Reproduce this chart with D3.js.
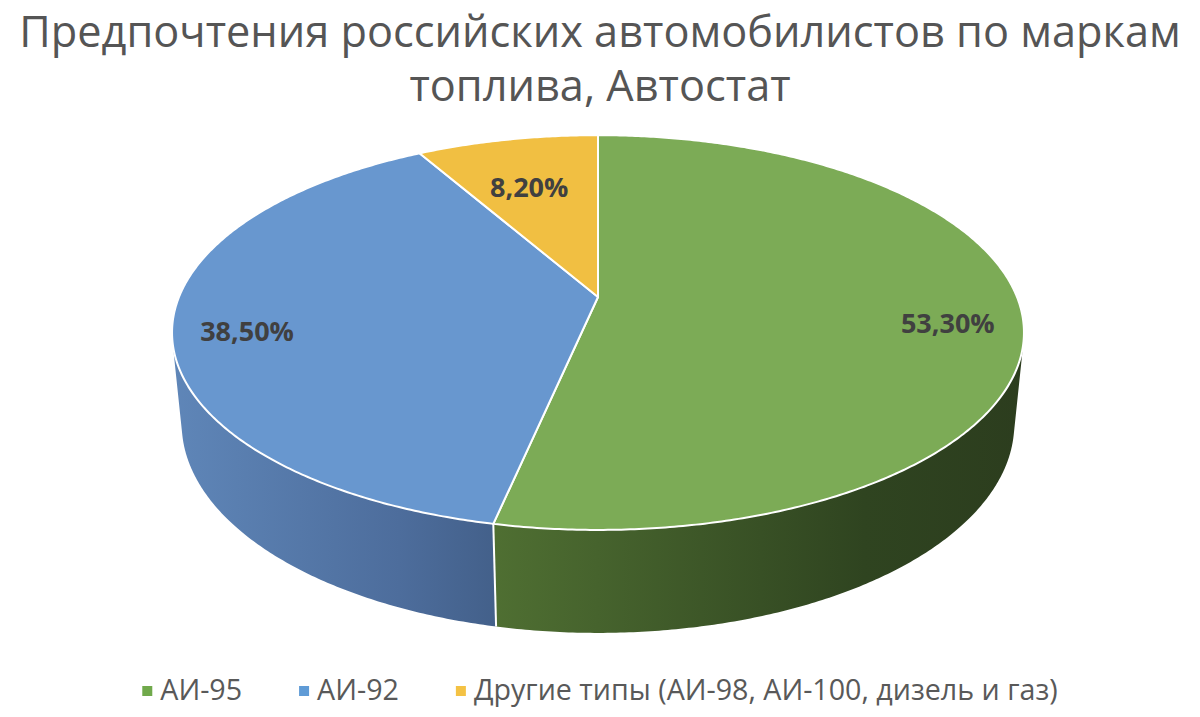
<!DOCTYPE html>
<html>
<head>
<meta charset="utf-8">
<script src="https://cdn.jsdelivr.net/npm/d3@7"></script>
<style>
  body { margin: 0; background: #fff; }
  text { font-family: "Open Sans", "Noto Sans", sans-serif; }
</style>
</head>
<body>
<div id="chart"></div>
<script>
// data
var titleLines = ["Предпочтения российских автомобилистов по маркам", "топлива, Автостат"];
var categories = ["АИ-95", "АИ-92", "Другие типы (АИ-98, АИ-100, дизель и газ)"];
var shares = [53.3, 38.5, 8.2];

var topColors = ["#7cab56", "#6897cf", "#f1bf42"];
var sideColors = [["#4f6f32", "#2f4420", "#2c3d1e"], ["#5f86b8", "#4d6d9c", "#43608a"], ["#b8912e", "#9a7824", "#8a6a1f"]];
var legendColors = ["#70a94b", "#5f9bd6", "#f4c244"];

var width = 1200, height = 717;

var svg = d3.select("#chart").append("svg")
  .attr("width", width)
  .attr("height", height);

var defs = svg.append("defs");

// simple perspective projection of the pie disc
var cx = 598, cy = 297, rx = 419, ry = 191;
var persp = 0.18, depth = 92, depthPersp = 0.0225;

function proj(a, r, z) {
  var u = r * Math.sin(a), v = -r * Math.cos(a);
  var w = 1 - persp * v + depthPersp * z;
  return [cx + rx * u / w, cy + (ry * v + depth * z) / w];
}

// where the side wall silhouette sits
var vS = persp / (1 - (ry / rx) * (ry / rx));
var aR = Math.acos(-vS), aL = 2 * Math.PI - aR;

function arcPoints(a0, a1, z) {
  var n = Math.max(2, Math.ceil(Math.abs(a1 - a0) / (Math.PI / 360)));
  var pts = [];
  for (var i = 0; i <= n; i++) {
    pts.push(proj(a0 + (a1 - a0) * i / n, 1, z));
  }
  return pts;
}

var pie = d3.pie().sort(null).value(function(d) { return d; });
var arcs = pie(shares);

var line = d3.line();

// side walls
arcs.forEach(function(d, i) {
  var s0 = Math.max(d.startAngle, aR), s1 = Math.min(d.endAngle, aL);
  if (s1 <= s0) return;
  var topPts = arcPoints(s0, s1, 0);
  var botPts = arcPoints(s1, s0, 1);
  var all = topPts.concat(botPts);
  var xs = d3.extent(all, function(p) { return p[0]; });

  var g = defs.append("linearGradient")
    .attr("id", "side" + i)
    .attr("gradientUnits", "userSpaceOnUse")
    .attr("x1", xs[0]).attr("x2", xs[1])
    .attr("y1", 0).attr("y2", 0);
  g.append("stop").attr("offset", "0%").attr("stop-color", sideColors[i][0]);
  g.append("stop").attr("offset", "70%").attr("stop-color", sideColors[i][1]);
  g.append("stop").attr("offset", "100%").attr("stop-color", sideColors[i][2]);

  svg.append("path")
    .attr("d", line(all) + "Z")
    .attr("fill", "url(#side" + i + ")");
});

// white edges between side walls
arcs.forEach(function(d) {
  var a = d.startAngle;
  if (a > aR && a < aL) {
    var p0 = proj(a, 1, 0), p1 = proj(a, 1, 1);
    svg.append("line")
      .attr("x1", p0[0]).attr("y1", p0[1])
      .attr("x2", p1[0]).attr("y2", p1[1])
      .attr("stroke", "#fff")
      .attr("stroke-width", 2);
  }
});

// top faces
arcs.forEach(function(d, i) {
  var pts = [proj(0, 0, 0)].concat(arcPoints(d.startAngle, d.endAngle, 0));
  svg.append("path")
    .attr("d", line(pts) + "Z")
    .attr("fill", topColors[i])
    .attr("stroke", "#fff")
    .attr("stroke-width", 2)
    .attr("stroke-linejoin", "round");
});

// data labels, placed inside the outer edge of each slice
var fmt = d3.format(".2f");
var c0 = proj(0, 0, 0);
arcs.forEach(function(d) {
  var mid = (d.startAngle + d.endAngle) / 2;
  var t = svg.append("text")
    .attr("text-anchor", "middle")
    .attr("dy", "0.35em")
    .attr("font-size", 27)
    .attr("font-weight", "bold")
    .attr("fill", "#404040")
    .text(fmt(d.data).replace(".", ",") + "%");
  var hw = t.node().getComputedTextLength() / 2, hh = 14;
  var e = proj(mid, 1, 0);
  var dx = c0[0] - e[0], dy = c0[1] - e[1], len = Math.sqrt(dx * dx + dy * dy);
  dx /= len; dy /= len;
  var s = Math.min(Math.abs(dx) > 1e-6 ? hw / Math.abs(dx) : 1e9, Math.abs(dy) > 1e-6 ? hh / Math.abs(dy) : 1e9) + 28;
  t.attr("x", e[0] + dx * s).attr("y", e[1] + dy * s + 10);
});

// title, sized to fit the original line width
var t1 = svg.append("text")
  .attr("x", width / 2).attr("y", 47)
  .attr("text-anchor", "middle")
  .attr("font-size", 46)
  .attr("fill", "#555555")
  .text(titleLines[0]);
var fs = 46 * 1162 / t1.node().getComputedTextLength();
t1.attr("font-size", fs);
svg.append("text")
  .attr("x", width / 2).attr("y", 101)
  .attr("text-anchor", "middle")
  .attr("font-size", fs)
  .attr("fill", "#555555")
  .text(titleLines[1]);

// legend
var legend = svg.append("g");
var probe = svg.append("text").attr("font-size", 24).text(categories[2]);
var lfs = 24 * 584 / probe.node().getComputedTextLength();
probe.remove();

var lx = 0, gap = 57;
categories.forEach(function(c, i) {
  var it = legend.append("g").attr("transform", "translate(" + lx + ",0)");
  it.append("rect")
    .attr("x", 0).attr("y", -14)
    .attr("width", 10).attr("height", 10)
    .attr("fill", legendColors[i]);
  var tx = it.append("text")
    .attr("x", 18).attr("y", 0)
    .attr("font-size", lfs)
    .attr("fill", "#595959")
    .text(c);
  lx += 18 + tx.node().getComputedTextLength() + gap;
});
var lw = lx - gap;
legend.attr("transform", "translate(" + (width / 2 - lw / 2) + ",700)");
</script>
</body>
</html>
